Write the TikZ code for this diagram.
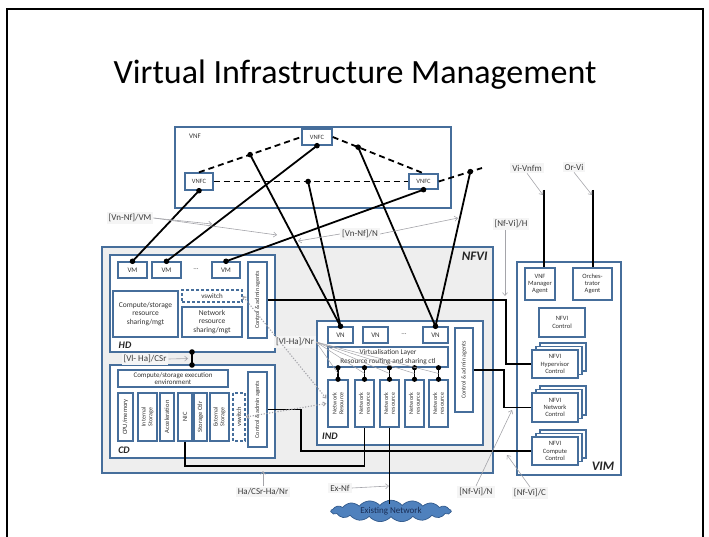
\documentclass[tikz,border=0pt]{standalone}
\usepackage{fontspec}
\setmainfont{Carlito}
\usetikzlibrary{arrows.meta,shapes.symbols,calc}
\definecolor{bx}{RGB}{70,110,155}
\definecolor{nfvig}{RGB}{238,238,238}
\definecolor{lbl}{RGB}{60,60,60}
\definecolor{arrg}{RGB}{165,165,170}
\definecolor{cloudblue}{RGB}{79,129,189}
\definecolor{clouddark}{RGB}{50,90,140}
\definecolor{cloudtext}{RGB}{25,45,85}
\newcommand{\myfs}[2]{\fontsize{#1}{#2}\selectfont}
\begin{document}
\begin{tikzpicture}[x=1pt,y=-1pt,
  bbox/.style={draw=bx,line width=1.4pt,fill=white,inner sep=0pt,align=center,text=black!80},
  dbox/.style={bbox,dash pattern=on 3pt off 2pt},
  conn/.style={line width=1.8pt,black},
  vdash/.style={conn,dash pattern=on 6pt off 4pt},
  garr/.style={draw=arrg,line width=0.6pt,-{Straight Barb[length=3pt,width=5pt]}},
  gdot/.style={draw=arrg,line width=1.1pt,dash pattern=on 1.2pt off 1.6pt,{Straight Barb[length=2.5pt,width=4pt]}-{Straight Barb[length=2.5pt,width=4pt]}},
  lab/.style={font=\myfs{9}{10},text=lbl,inner sep=2pt,fill=black!4},
  bigbi/.style={font=\bfseries\itshape\myfs{13}{15},text=black!85},
  smbi/.style={font=\bfseries\itshape\myfs{10}{12},text=black!85},
  t6/.style={font=\myfs{6}{6.8}},
  t65/.style={font=\myfs{6.5}{7.2}},
  t7/.style={font=\myfs{7}{7.8}},
  t75/.style={font=\myfs{7.5}{8.3}}
]
\useasboundingbox (0,0) rectangle (709,537);
% slide frame
\draw[line width=1.2pt] (7,537) -- (7,9) -- (703,9) -- (703,537);
\node[font=\myfs{34}{40},anchor=base,inner sep=0pt] (title) at (355,84) {Virtual Infrastructure Management};

% ---------------- NFVI ----------------
\node[draw=bx,line width=1.4pt,fill=nfvig,minimum width=391pt,minimum height=226pt,inner sep=0pt] (nfvi) at (297.5,360) {};
\node[bigbi,anchor=east] (nfvilab) at (491,256) {NFVI};

% HD
\node[bbox,minimum width=165pt,minimum height=97pt] (hd) at (192.5,303.5) {};
\node[smbi] (hdlab) at (125,345) {HD};
\node[bbox,t7,minimum width=29pt,minimum height=16pt] (vm1) at (132.5,270) {VM};
\node[bbox,t7,minimum width=29pt,minimum height=16pt] (vm2) at (166.5,270) {VM};
\node[t7,text=black!70] (vmdots) at (196,269) {...};
\node[bbox,t7,minimum width=28pt,minimum height=16pt] (vm3) at (226,270) {VM};
\node[bbox,t6,rotate=90,minimum width=76pt,minimum height=19pt] (hdctl) at (257.5,300) {Control \& admin agents};
\node[bbox,t75,minimum width=65pt,minimum height=46pt] (hdcs) at (145.5,314) {Compute/storage\\resource\\sharing/mgt};
\node[dbox,t7,minimum width=60pt,minimum height=12pt] (vsw1) at (212,296) {vswitch};
\node[bbox,t75,minimum width=60pt,minimum height=30pt] (hdnr) at (212,322) {Network\\resource\\sharing/mgt};

% CD
\node[bbox,minimum width=165pt,minimum height=93pt] (cd) at (192.5,411.5) {};
\node[smbi] (cdlab) at (124,450) {CD};
\node[bbox,t7,minimum width=110pt,minimum height=17pt] (cdexec) at (173,378.5) {Compute/storage execution\\environment};
\node[bbox,t65,rotate=90,minimum width=48pt,minimum height=15pt] (cpu) at (125.5,417) {CPU/memory};
\node[bbox,t6,rotate=90,minimum width=48pt,minimum height=19pt] (intst) at (147.5,417) {Internal\\Storage};
\node[bbox,t65,rotate=90,minimum width=48pt,minimum height=14pt] (accel) at (167,417) {Acceleration};
\node[bbox,t65,rotate=90,minimum width=48pt,minimum height=14pt] (nic) at (185,417) {NIC};
\node[bbox,t65,rotate=90,minimum width=48pt,minimum height=13pt] (stctl) at (200.5,417) {Storage Ctlr};
\node[bbox,t6,rotate=90,minimum width=48pt,minimum height=19pt] (extst) at (219.5,417) {External\\Storage};
\node[dbox,t65,rotate=90,minimum width=48pt,minimum height=12pt] (vsw2) at (239,417) {vswitch};
\node[bbox,t6,rotate=90,minimum width=75pt,minimum height=19pt] (cdctl) at (257.5,409.5) {Control \& admin agents};

% IND
\node[bbox,minimum width=166pt,minimum height=124pt] (ind) at (400,383) {};
\node[smbi] (indlab) at (330,436) {IND};
\node[bbox,t7,minimum width=25pt,minimum height=16pt] (vn1) at (340.5,335) {VN};
\node[bbox,t7,minimum width=25pt,minimum height=16pt] (vn2) at (375.5,335) {VN};
\node[t7,text=black!70] (vndots) at (404,334) {...};
\node[bbox,t7,minimum width=25pt,minimum height=16pt] (vn3) at (435.5,335) {VN};
\node[bbox,font=\myfs{7.3}{8.2},minimum width=120pt,minimum height=20pt] (vl) at (388,357) {Virtualisation Layer\\Resource routing and sharing ctl};
\node[bbox,t6,rotate=90,minimum width=47pt,minimum height=20pt] (nr1) at (338,403.5) {Network\\Resource};
\node[bbox,t6,rotate=90,minimum width=47pt,minimum height=19pt] (nr2) at (364.5,403.5) {Network\\resource};
\node[bbox,t6,rotate=90,minimum width=47pt,minimum height=19pt] (nr3) at (389.5,403.5) {Network\\resource};
\node[bbox,t6,rotate=90,minimum width=47pt,minimum height=19pt] (nr4) at (414.5,403.5) {Network\\resource};
\node[bbox,t6,rotate=90,minimum width=47pt,minimum height=19pt] (nr5) at (438.5,403.5) {Network\\resource};
\node[bbox,t6,rotate=90,minimum width=84pt,minimum height=18pt] (indctl) at (464,370) {Control \& admin agents};

% ---------------- VIM ----------------
\node[bbox,minimum width=104pt,minimum height=213pt] (vim) at (569,368.5) {};
\node[bigbi] (vimlab) at (603,466) {VIM};
\node[bbox,t65,minimum width=30pt,minimum height=32pt] (vnfm) at (540,284) {VNF\\Manager\\Agent};
\node[bbox,t65,minimum width=39pt,minimum height=32pt] (orch) at (592.5,284) {Orches-\\trator\\Agent};
\node[bbox,t65,minimum width=46pt,minimum height=29pt] (nfvictl) at (562,322.5) {NFVI\\Control};
\node[bbox,minimum width=46pt,minimum height=28pt] (hypb2) at (563,357) {};
\node[bbox,minimum width=46pt,minimum height=28pt] (hypb1) at (559,360.5) {};
\node[bbox,t65,minimum width=46pt,minimum height=28pt] (hyp) at (555,364) {NFVI\\Hypervisor\\Control};
\node[bbox,minimum width=46pt,minimum height=29pt] (netcb2) at (563,400.5) {};
\node[bbox,minimum width=46pt,minimum height=29pt] (netcb1) at (559,404) {};
\node[bbox,t65,minimum width=46pt,minimum height=29pt] (netc) at (555,407.5) {NFVI\\Network\\Control};
\node[bbox,minimum width=46pt,minimum height=28pt] (compcb2) at (563,444) {};
\node[bbox,minimum width=46pt,minimum height=28pt] (compcb1) at (559,447.5) {};
\node[bbox,t65,minimum width=46pt,minimum height=28pt] (compc) at (555,451) {NFVI\\Compute\\Control};

% ---------------- VNF ----------------
\node[bbox,minimum width=276pt,minimum height=81pt] (vnf) at (313,167.5) {};
\node[font=\myfs{7}{8},text=black!80] (vnflab) at (195,136) {VNF};
\node[bbox,t65,minimum width=30pt,minimum height=16pt] (vnfcT) at (317,137) {VNFC};
\node[bbox,t65,minimum width=28pt,minimum height=17pt] (vnfcL) at (199,181.5) {VNFC};
\node[bbox,t65,minimum width=29pt,minimum height=15pt] (vnfcR) at (423.5,181.5) {VNFC};
\coordinate (eR) at (482,168);

% cloud
\node[cloud,cloud puffs=17,cloud puff arc=100,aspect=6,draw=clouddark,line width=0.7pt,fill=cloudblue,
      minimum width=120pt,minimum height=20pt,inner sep=0pt,font=\myfs{9}{10},text=cloudtext] (cloud) at (391,511) {Existing Network};

% ---------------- dashed VNFC links ----------------
\draw[vdash] (vnfcL.north) -- (vnfcT.west);
\draw[vdash] (vnfcT.east) -- (vnfcR.north);
\draw[vdash] (vnfcL.east) -- (vnfcR.west);
\draw[vdash] (vnfcR.east) -- (eR);
\coordinate (dA) at ($(vnfcL.north)!0.5!(vnfcT.west)$);
\coordinate (dB) at ($(vnfcT.east)!0.28!(vnfcR.north)$);
\coordinate (dC) at ($(vnfcL.east)!0.485!(vnfcR.west)$);
\coordinate (dD) at ($(vnfcR.east)!0.73!(eR)$);

% ---------------- black connectors ----------------
\draw[conn] (vm1.north) -- (vnfcL.south);
\draw[conn] (vm2.north) -- (vnfcT.south);
\draw[conn] (vm3.north) -- (vnfcR.south);
\draw[conn] (dA) -- (vn1.north);
\draw[conn] (dC) -- (vn1.north);
\draw[conn] (dB) -- (vn3.north);
\draw[conn] (dD) -- (vn3.north);
\foreach \p in {vm1.north,vm2.north,vm3.north,vnfcL.south,vnfcT.south,vnfcR.south,dA,dB,dC,dD,vn1.north,vn3.north}
  \fill (\p) circle (2.8pt);

\draw[conn] (hdctl.south) -- ++(238,0) |- (hyp.west);
\draw[conn] (indctl.south) -- ++(30,0) |- (netc.west);
\draw[conn] (cdctl.south) -- ++(33,0) |- (compc.west);
\draw[conn] (nic.west) -- ++(0,24) -| (nr2.west);
\draw[conn] (nr3.west) -- ($(cloud.north)+(-1.5,4)$);

% HD - CD link
\coordinate (hdb) at (192,352);
\coordinate (cdt) at (192,365);
\draw[conn] (hdb) -- (cdt);
\fill (hdb) circle (2.8pt);
\fill (cdt) circle (2.8pt);

% VL - NR links
\foreach \n in {nr1,nr2,nr3,nr4,nr5}{
  \draw[conn] (\n.east) -- (\n.east |- vl.south);
  \fill (\n.east) circle (2.6pt);
  \fill (\n.east |- vl.south) circle (2.6pt);
}

% VIM external
\coordinate (vvTop) at (544,190);
\coordinate (ovTop) at (593,190);
\draw[conn] (vvTop) -- (vvTop |- vnfm.north);
\draw[conn] (ovTop) -- (ovTop |- orch.north);

% ---------------- labels ----------------
\node[lab] (vmlab) at (130,218) {[Vn-Nf]/VM};
\node[lab] (nlab) at (360,234) {[Vn-Nf]/N};
\node[lab] (hlab) at (511,224) {[Nf-Vi]/H};
\node[lab] (vnfmlab) at (527,168) {Vi-Vnfm};
\node[lab] (orlab) at (574,167) {Or-Vi};
\node[lab] (csrlab) at (145,359) {[Vl- Ha]/CSr};
\node[lab] (nrlab) at (295,342) {[Vl-Ha]/Nr};
\node[lab] (hacsr) at (263,492) {Ha/CSr-Ha/Nr};
\node[lab] (exnf) at (340,488) {Ex-Nf};
\node[lab] (nfvin) at (476,492) {[Nf-Vi]/N};
\node[lab] (nfvic) at (530,493) {[Nf-Vi]/C};

% grey reference-point arrows
\coordinate (tvm1) at (212,224);
\coordinate (tvm2) at (277,235);
\coordinate (tn1) at (298,241);
\coordinate (tn2) at (458,218);
\draw[garr] (vmlab.east) -- (tvm1);
\draw[garr] (vmlab.east) -- (tvm2);
\draw[garr] (nlab.west) -- (tn1);
\draw[garr] (nlab.east) -- (tn2);
\draw[garr] (hlab.south -| 505,0) -- (505,296);
\draw[garr] (vnfmlab.south) -- ($(vvTop)+(-1,5)$);
\draw[garr] (orlab.south) -- ($(ovTop)+(-1,5)$);
\draw[garr] (csrlab.east) -- ($(hdb)!0.5!(cdt)+(-4,0)$);
\foreach \n in {nr1,nr2,nr3,nr4,nr5}
  \draw[draw=arrg,line width=0.5pt] (nrlab.east) -- ($(\n.east)!0.5!(\n.east |- vl.south)$);
\draw[garr] (hacsr.north) -- (263,471);
\draw[garr] (exnf.east) -- (389,486);
\draw[garr] (nfvin.north) -- (512,410);
\draw[garr] (nfvic.north) -- (507,455);

% dotted vswitch links
\draw[gdot] (vsw1.east) -- ($(nr1.north)+(-1,-5)$);
\draw[gdot] (vsw2.south) -- ($(nr1.north)+(-1,0)$);
\end{tikzpicture}
\end{document}
